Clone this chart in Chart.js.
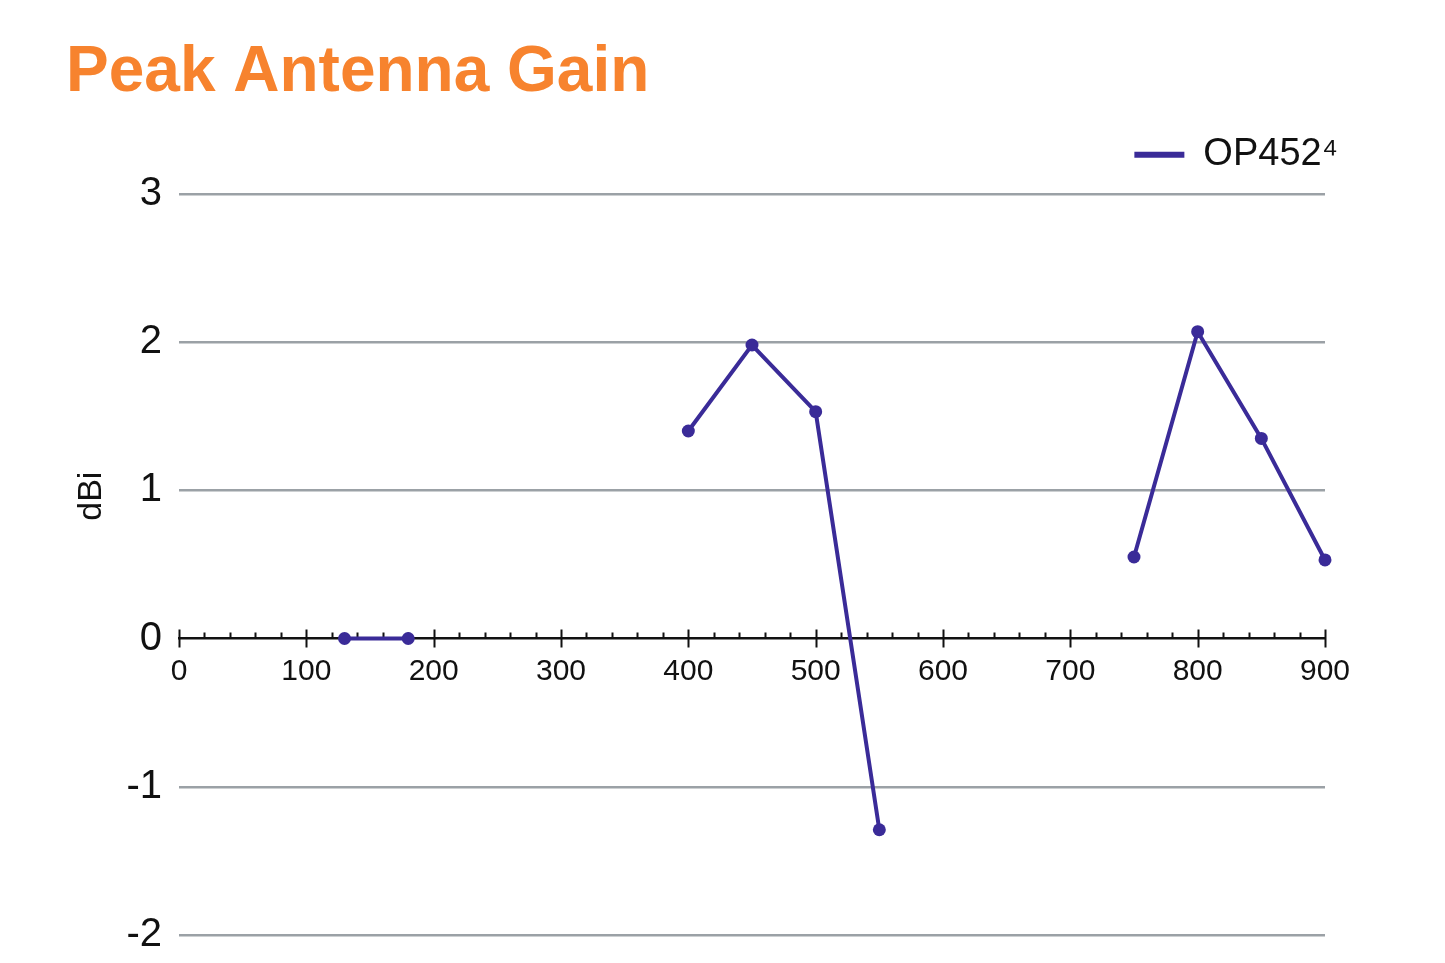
<!DOCTYPE html>
<html>
<head>
<meta charset="utf-8">
<script src="https://cdn.jsdelivr.net/npm/chart.js@4"></script>
<style>
  html, body { margin: 0; padding: 0; background: #ffffff; }
  #c { display: block; }
</style>
</head>
<body>
<canvas id="c" width="1445" height="963"></canvas>
<script>
// ---- data ----
const chartTitle = 'Peak Antenna Gain';
const seriesName = 'OP452\u2074';
const yAxisTitle = 'dBi';
const frequencies = [130, 180, 400, 450, 500, 550, 750, 800, 850, 900];
const gainValues  = [0, 0, 1.4, 1.98, 1.53, -1.29, 0.55, 2.07, 1.35, 0.53];
const xTickMin = 0, xTickMax = 900, xTickStep = 100, xMinorStep = 20;
const yTickMin = -2, yTickMax = 3, yTickStep = 1;

// ---- styles ----
const FONT = "'Liberation Sans', Arial, Helvetica, sans-serif";
const LINE_COLOR = '#3a2b98';
const GRID_COLOR = '#9ba1a6';
const TEXT_COLOR = '#111111';
const TITLE_COLOR = '#F7832E';

const points = frequencies.map((f, i) => ({ x: f, y: gainValues[i] }));

const axisTicks = {
  id: 'axisTicks',
  beforeDatasetsDraw(chart) {
    const xs = chart.scales.x, ys = chart.scales.y;
    const y0 = ys.getPixelForValue(0);
    const ctx = chart.ctx;
    ctx.save();
    ctx.strokeStyle = '#111111';
    ctx.lineWidth = 2;
    ctx.beginPath();
    for (let v = xTickMin; v <= xTickMax; v += xMinorStep) {
      const px = Math.round(xs.getPixelForValue(v)) + 0.5;
      const major = v % xTickStep === 0;
      ctx.moveTo(px, major ? y0 - 9 : y0 - 6);
      ctx.lineTo(px, major ? y0 + 9 : y0);
    }
    ctx.stroke();
    ctx.restore();
  }
};

const yTitle = {
  id: 'yTitle',
  afterDraw(chart) {
    const a = chart.chartArea;
    const ctx = chart.ctx;
    ctx.save();
    ctx.translate(a.left - 87, a.top + 0.408 * (a.bottom - a.top));
    ctx.rotate(-Math.PI / 2);
    ctx.fillStyle = TEXT_COLOR;
    ctx.font = '34px ' + FONT;
    ctx.textAlign = 'center';
    ctx.textBaseline = 'middle';
    ctx.fillText(yAxisTitle, 0, 0);
    ctx.restore();
  }
};

const whiteBg = {
  id: 'whiteBg',
  beforeDraw(chart) {
    const ctx = chart.ctx;
    ctx.save();
    ctx.fillStyle = '#ffffff';
    ctx.fillRect(0, 0, chart.width, chart.height);
    ctx.restore();
  }
};

new Chart(document.getElementById('c'), {
  type: 'line',
  data: {
    datasets: [{
      label: seriesName,
      data: points,
      borderColor: LINE_COLOR,
      backgroundColor: LINE_COLOR,
      borderWidth: 4,
      pointRadius: 6.5,
      pointHoverRadius: 6.5,
      pointBackgroundColor: LINE_COLOR,
      pointBorderWidth: 0,
      tension: 0,
      fill: false,
      clip: false,
      segment: {
        borderColor: ctx => (ctx.p1.parsed.x - ctx.p0.parsed.x > 100 ? 'rgba(0,0,0,0)' : LINE_COLOR)
      }
    }]
  },
  options: {
    responsive: false,
    animation: false,
    devicePixelRatio: 1,
    layout: { padding: { left: 66, right: 83, top: 0, bottom: 28 } },
    plugins: {
      tooltip: { enabled: false },
      title: {
        display: true,
        text: chartTitle,
        align: 'start',
        color: TITLE_COLOR,
        font: { family: FONT, size: 64, weight: 'bold', lineHeight: 1.2 },
        padding: { top: 35, bottom: 0 }
      },
      legend: {
        display: true,
        position: 'top',
        align: 'end',
        labels: {
          color: TEXT_COLOR,
          font: { family: FONT, size: 38 },
          boxWidth: 50,
          boxHeight: 6,
          padding: 24,
          generateLabels(chart) {
            const items = Chart.defaults.plugins.legend.labels.generateLabels(chart);
            items.forEach(it => { it.lineWidth = 0; it.fillStyle = LINE_COLOR; it.strokeStyle = LINE_COLOR; });
            return items;
          }
        }
      }
    },
    scales: {
      x: {
        type: 'linear',
        position: { y: 0 },
        min: xTickMin,
        max: xTickMax,
        grid: { display: true, drawOnChartArea: false, drawTicks: false },
        border: { display: true, color: '#111111', width: 2.5 },
        ticks: {
          stepSize: xTickStep,
          color: TEXT_COLOR,
          font: { family: FONT, size: 30 },
          padding: 15,
          maxRotation: 0,
          autoSkip: false
        }
      },
      xTop: {
        type: 'linear',
        position: 'top',
        display: true,
        afterFit(s) { s.height = 10; },
        grid: { display: false, drawTicks: false },
        border: { display: false },
        ticks: { display: false }
      },
      y: {
        type: 'linear',
        position: 'left',
        min: yTickMin,
        max: yTickMax,
        afterFit(s) { s.width = 113; s.paddingBottom = 0; },
        grid: {
          color: ctx => (ctx.tick && ctx.tick.value === 0 ? 'rgba(0,0,0,0)' : GRID_COLOR),
          lineWidth: 2.5,
          drawTicks: false
        },
        border: { display: false },
        ticks: {
          stepSize: yTickStep,
          color: TEXT_COLOR,
          font: { family: FONT, size: 40 },
          padding: 17
        }
      },
      yR: {
        type: 'linear',
        position: 'right',
        display: true,
        afterFit(s) { s.width = 37; },
        grid: { display: false, drawTicks: false },
        border: { display: false },
        ticks: { display: false }
      }
    }
  },
  plugins: [whiteBg, axisTicks, yTitle]
});
</script>
</body>
</html>
